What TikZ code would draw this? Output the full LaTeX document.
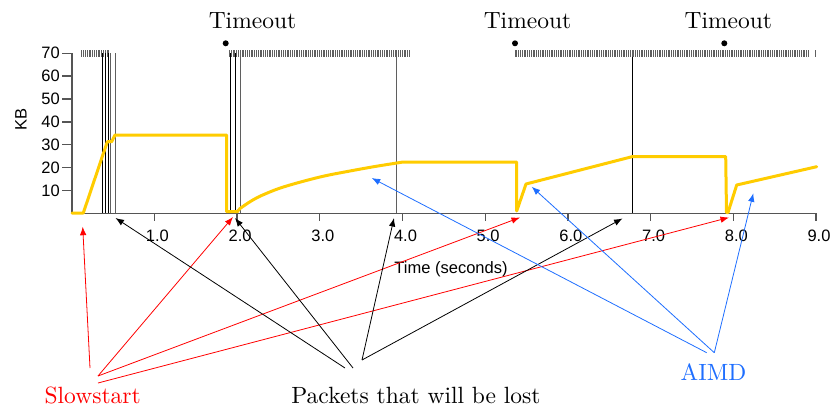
\documentclass[tikz,border=0pt]{standalone}
\usepackage{fontspec}
\setsansfont{Liberation Sans}
\newfontfamily\lmten{lmroman10-regular}[Extension=.otf]
\usetikzlibrary{arrows.meta}
\definecolor{gold}{RGB}{255,204,0}
\definecolor{aimdblue}{RGB}{30,110,255}
\definecolor{axisgray}{RGB}{85,85,85}
\definecolor{tickgray}{RGB}{95,95,95}
\begin{document}
\begin{tikzpicture}[x=1pt,y=-1pt,
  serif/.style={font=\lmten\fontsize{23.5}{28}\selectfont, inner sep=0pt},
  sans/.style={font=\sffamily\fontsize{16.5}{20}\selectfont, inner sep=0pt},
  conn/.style={line width=0.8pt,-{Latex[length=8.5pt,width=6.5pt]}},
  lostblack/.style={line width=0.9pt, black},
  lostgray/.style={line width=1pt, tickgray},
  axisline/.style={line width=1.3pt, axisgray},
  curve/.style={gold, line width=3pt, line join=round, line cap=round}]
\useasboundingbox (0,0) rectangle (835,410);

% axes
\draw[axisline] (72,53.3) -- (72,213.3) -- (816,213.3);
\foreach \k/\yy in {10/190.4,20/167.6,30/144.7,40/121.9,50/99.0,60/76.1,70/53.3}{
  \draw[axisline] (62,\yy) -- (72,\yy);
  \node[sans, anchor=east] (yl\k) at (60,\yy) {\k};
}
\foreach \t/\xx in {1/154.4,2/237.1,3/319.8,4/402.5,5/485.2,6/567.9,7/650.6,8/733.3,9/816}{
  \draw[axisline] (\xx,213.3) -- (\xx,221);
  \node[sans] (xl\t) at (\xx+3,236) {\t.0};
}
\node[sans, rotate=90] (kb) at (21,119) {KB};
\node[sans, anchor=base] (timelab) at (451,273.5) {Time (seconds)};

% timeouts
\node[serif, anchor=base] (to1) at (252.5,28.3) {Timeout};
\node[serif, anchor=base] (to2) at (527.5,28.3) {Timeout};
\node[serif, anchor=base] (to3) at (728.3,28.3) {Timeout};
\fill (225.7,43.3) circle (3pt);
\fill (515,43.3) circle (3pt);
\fill (724.3,43.3) circle (3pt);

% packet tick rows
\foreach \x in {81.7,83.5,...,109.5}{\draw[tickgray, line width=0.7pt] (\x,50) -- (\x,57);}
\foreach \x in {229.3,231.1,...,410.5}{\draw[tickgray, line width=0.7pt] (\x,50) -- (\x,57);}
\foreach \x in {515,516.8,...,808.5}{\draw[tickgray, line width=0.7pt] (\x,50) -- (\x,57);}
\draw[tickgray, line width=0.7pt] (815,50) -- (815,57);

% lost packets
\foreach \x in {102.3,105.5,108.3}{\draw[lostblack] (\x,53.3) -- (\x,213.3);}
\foreach \x in {110.6,115.5}{\draw[lostgray] (\x,53.3) -- (\x,213.3);}
\foreach \x in {230,235}{\draw[lostblack] (\x,53.3) -- (\x,213.3);}
\draw[lostgray] (240,53.3) -- (240,213.3);
\draw[lostgray] (396,56.7) -- (396,213.3);
\draw[lostblack] (632.3,56.7) -- (632.3,213.3);

% congestion window
\draw[curve] (72,213) -- (83.3,213) -- (107.3,141.7) -- (111.7,141.7) -- (115,135)
  -- (226.7,135) -- (226.7,211.7) -- (237.3,211.7)
  -- plot[smooth, tension=0.6] coordinates {(240,208.5) (252,200.5) (265,194) (285,186.5) (320,177) (350,171) (375,166.5) (395,163.3)}
  -- (403,162) -- (516.7,162) -- (516.7,211) -- (526,184) -- (632,156.7)
  -- (725.7,156.7) -- (726.5,212.5) -- (728,212.5) -- (736.7,185) -- (816.7,166.7);

% bottom labels
\node[serif, anchor=base, red] (slow) at (92.7,403) {Slowstart};
\node[serif, anchor=base] (lost) at (416,403) {Packets that will be lost};
\node[serif, anchor=base, aimdblue] (aimd) at (713.5,380) {AIMD};

% connector start points
\coordinate (s1) at (90,368);
\coordinate (s2) at (98,376);
\coordinate (s3) at (98,383);
\coordinate (p1) at (345,368);
\coordinate (p2) at (353,368);
\coordinate (p3) at (362,360);
\coordinate (a1) at (706.7,352.7);
\coordinate (a2) at (714.3,352.7);
% targets
\coordinate (ts1) at (82.7,226.7);
\coordinate (ts2) at (233,217);
\coordinate (ts3) at (520,217.5);
\coordinate (ts4) at (729,217.5);
\coordinate (tp1) at (115.5,218);
\coordinate (tp2) at (235,218);
\coordinate (tp3) at (394,218);
\coordinate (tp4) at (622.5,218.5);
\coordinate (ta1) at (371.7,178);
\coordinate (ta2) at (531.7,186.7);
\coordinate (ta3) at (753.3,193.3);

\draw[conn, red] (s1) -- (ts1);
\draw[conn, red] (s2) -- (ts2);
\draw[conn, red] (s2) -- (ts3);
\draw[conn, red] (s3) -- (ts4);
\draw[conn, black] (p1) -- (tp1);
\draw[conn, black] (p2) -- (tp2);
\draw[conn, black] (p3) -- (tp3);
\draw[conn, black] (p3) -- (tp4);
\draw[conn, aimdblue] (a1) -- (ta1);
\draw[conn, aimdblue] (a2) -- (ta2);
\draw[conn, aimdblue] (a2) -- (ta3);
\end{tikzpicture}
\end{document}
